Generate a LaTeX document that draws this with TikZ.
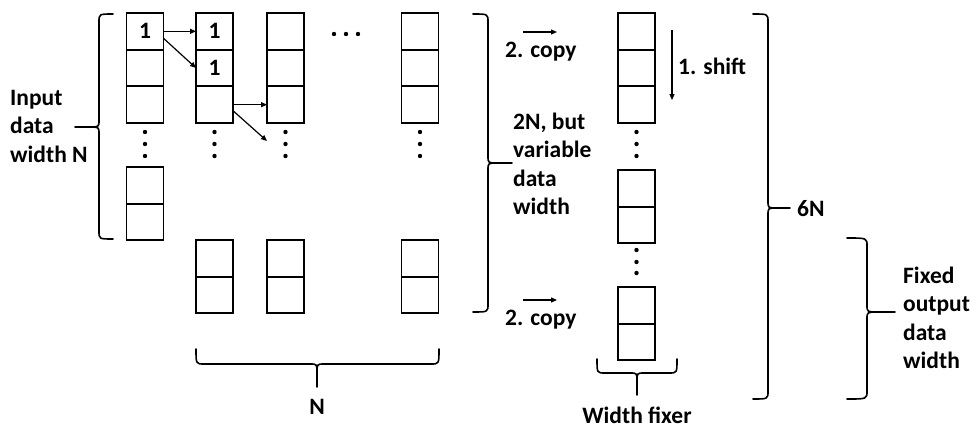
\documentclass[tikz,border=0pt]{standalone}
\usepackage{fontspec}
\setmainfont{Carlito}
\usetikzlibrary{arrows.meta}
\newcommand\lblfont{\bfseries\fontsize{23.5}{28.5}\selectfont}
\tikzset{
 cell/.style={draw, line width=1.8pt, minimum width=37pt, minimum height=36.7pt, inner sep=0pt, outer sep=0pt, font=\lblfont},
 lbl/.style={font=\lblfont, inner sep=0pt, align=left},
 arr/.style={line width=1.2pt, -{Triangle[length=6pt,width=5pt]}},
 brace/.style={line width=1.6pt, line join=round, line cap=round},
 dotn/.style={circle, fill, inner sep=0pt, minimum size=4.4pt},
}
\newcommand\vbr[6]{%
 \draw[brace] (#1,#3) .. controls (#2,#3) .. (#2,{#3+8}) -- (#2,{#6-7}) .. controls (#2,#6) .. ({0.6*#2+0.4*#5},#6) -- (#5,#6)
   ({0.6*#2+0.4*#5},#6) .. controls (#2,#6) .. (#2,{#6+7}) -- (#2,{#4-8}) .. controls (#2,#4) .. (#1,#4);}
\newcommand\hbr[6]{%
 \draw[brace] (#1,#3) .. controls (#1,#4) .. ({#1+8},#4) -- ({#5-7},#4) .. controls (#5,#4) .. (#5,{0.6*#4+0.4*#6}) -- (#5,#6)
  (#5,{0.6*#4+0.4*#6}) .. controls (#5,#4) .. ({#5+7},#4) -- ({#2-8},#4) .. controls (#2,#4) .. (#2,#3);}
\begin{document}
\begin{tikzpicture}[x=1pt,y=-1pt]
\useasboundingbox (0,0) rectangle (977,428);
% column 1
\node[cell] (a1) at (145,31.3) {1};
\node[cell] (a2) at (145,68) {};
\node[cell] (a3) at (145,104.7) {};
\node[cell] (a4) at (145,185.3) {};
\node[cell] (a5) at (145,222) {};
% column 2
\node[cell] (b1) at (214.5,31.3) {1};
\node[cell] (b2) at (214.5,68) {1};
\node[cell] (b3) at (214.5,104.7) {};
% column 3
\node[cell] (c1) at (285.5,31.3) {};
\node[cell] (c2) at (285.5,68) {};
\node[cell] (c3) at (285.5,104.7) {};
% column 4
\node[cell] (e1) at (420,31.3) {};
\node[cell] (e2) at (420,68) {};
\node[cell] (e3) at (420,104.7) {};
% bottom row
\node[cell] (p1) at (214.5,258.3) {};
\node[cell] (p2) at (214.5,295) {};
\node[cell] (q1) at (285.5,258.3) {};
\node[cell] (q2) at (285.5,295) {};
\node[cell] (r1) at (420,258.3) {};
\node[cell] (r2) at (420,295) {};
% width fixer column
\node[cell] (f1) at (636.5,31.3) {};
\node[cell] (f2) at (636.5,68) {};
\node[cell] (f3) at (636.5,104.7) {};
\node[cell] (f4) at (636.5,188.3) {};
\node[cell] (f5) at (636.5,225) {};
\node[cell] (f6) at (636.5,305.3) {};
\node[cell] (f7) at (636.5,342) {};
% dots
\foreach \n/\x in {a/145,b/214.5,c/285.5,e/420,f/636.5}{
  \node[dotn] (\n d1) at (\x,132) {};
  \node[dotn] (\n d2) at (\x,144) {};
  \node[dotn] (\n d3) at (\x,156) {};
}
\node[dotn] (fe1) at (636.5,250) {};
\node[dotn] (fe2) at (636.5,262) {};
\node[dotn] (fe3) at (636.5,273) {};
\node[dotn] (h1) at (334,34) {};
\node[dotn] (h2) at (346,34) {};
\node[dotn] (h3) at (358,34) {};
% arrows between cells
\coordinate (t1) at (267,141);
\draw[arr] (a1.east) -- (b1.west);
\draw[arr] ([yshift=-7pt]a1.east) -- (b2.west);
\draw[arr] (b3.east) -- (c3.west);
\draw[arr] ([yshift=-6pt]b3.east) -- (t1);
% copy and shift arrows
\coordinate (ca1) at (523,32); \coordinate (ca2) at (557,32);
\coordinate (cb1) at (523,300); \coordinate (cb2) at (557,300);
\coordinate (s1) at (672,30); \coordinate (s2) at (672,100);
\draw[arr] (ca1) -- (ca2);
\draw[arr] (cb1) -- (cb2);
\draw[arr] (s1) -- (s2);
% braces
\vbr{113}{99}{14}{239}{75}{127}
\vbr{473}{488}{14}{312}{512}{163}
\vbr{753}{768}{14}{399}{790}{208}
\vbr{847}{867}{238}{399}{895}{312}
\hbr{196}{439}{349}{364}{317}{387}
\hbr{597}{677}{359}{373}{637}{395}
% labels
\node[lbl, anchor=west] (inp) at (10,126) {Input\\data\\width N};
\node[lbl, anchor=west] (var) at (513,164) {2N, but\\variable\\data\\width};
\node[lbl, anchor=west] (cp1) at (505,52) {2. copy};
\node[lbl, anchor=west] (cp2) at (505,320) {2. copy};
\node[lbl, anchor=west] (sh) at (678,66) {1. shift};
\node[lbl] (nl) at (317,407) {N};
\node[lbl] (wf) at (637,415) {Width fixer};
\node[lbl, anchor=west] (sixn) at (797,209) {6N};
\node[lbl, anchor=west] (fx) at (903,318) {Fixed\\output\\data\\width};
\end{tikzpicture}
\end{document}
